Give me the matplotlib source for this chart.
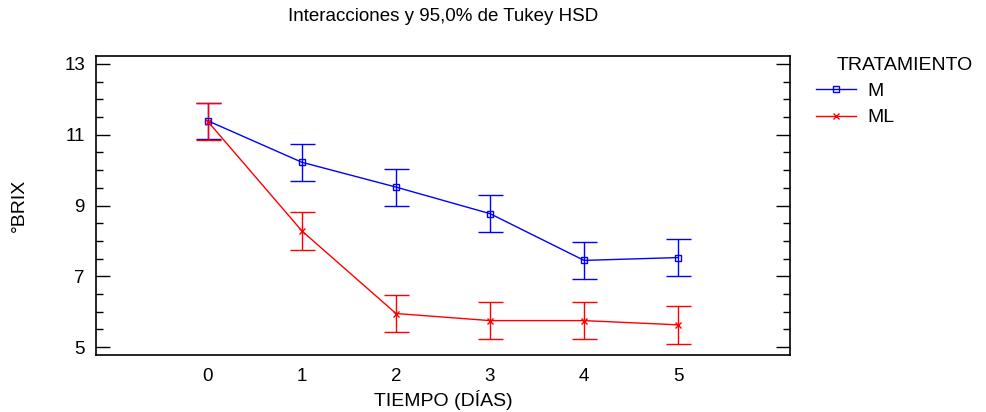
import matplotlib
matplotlib.use("Agg")
import matplotlib.pyplot as plt
from matplotlib.ticker import MultipleLocator

plt.rcParams['font.family'] = ['Liberation Sans', 'DejaVu Sans']

dias = [0, 1, 2, 3, 4, 5]
brix_m = [11.39, 10.22, 9.52, 8.77, 7.45, 7.53]
brix_ml = [11.37, 8.28, 5.95, 5.75, 5.75, 5.63]
err_m = [0.51, 0.53, 0.52, 0.52, 0.52, 0.52]
err_ml = [0.53, 0.53, 0.53, 0.53, 0.53, 0.53]
yticks = [5, 7, 9, 11, 13]

fig = plt.figure(figsize=(9.87, 4.12), dpi=100)
ax = fig.add_axes([0.0973, 0.1376, 0.7031, 0.7272])

ax.errorbar(dias, brix_m, yerr=err_m, color="#0000ff", lw=1, marker="s", ms=4,
            mfc="none", mew=1, capsize=9, elinewidth=1, capthick=1, label="M")
ax.errorbar(dias, brix_ml, yerr=err_ml, color="#ff0000", lw=1, marker="x", ms=4,
            mew=1, capsize=9, elinewidth=1, capthick=1, label="ML")

ax.set_xlim(-1.19, 6.19)
ax.set_ylim(4.77, 13.23)
ax.set_xticks(dias)
ax.set_yticks(yticks)
ax.yaxis.set_minor_locator(MultipleLocator(0.5))
ax.tick_params(axis="y", which="major", direction="in", length=10, width=1, labelsize=13.5,
               left=True, right=True, pad=8)
ax.tick_params(axis="y", which="minor", direction="in", length=5, width=1, left=True, right=True)
ax.tick_params(axis="x", length=0, labelsize=13.5, pad=9)
for s in ax.spines.values():
    s.set_linewidth(1.2)

ax.set_xlabel("TIEMPO (DÍAS)", fontsize=14)
ax.xaxis.set_label_coords(0.5, -0.115)
ax.set_ylabel("°BRIX", fontsize=14)
ax.yaxis.set_label_coords(-0.098, 0.5)
fig.text(0.449, 0.959, "Interacciones y 95,0% de Tukey HSD", ha="center", va="center", fontsize=13.5)

handles, labels = ax.get_legend_handles_labels()
handles = [h[0] for h in handles]
fig.legend(handles, labels, loc="upper left", bbox_to_anchor=(0.8267, 0.801), frameon=False,
           fontsize=14, handlelength=2.06, handletextpad=0.6, labelspacing=0.47,
           borderpad=0, borderaxespad=0)
fig.text(0.917, 0.842, "TRATAMIENTO", ha="center", va="center", fontsize=14)

fig.savefig("out.png", dpi=100)
